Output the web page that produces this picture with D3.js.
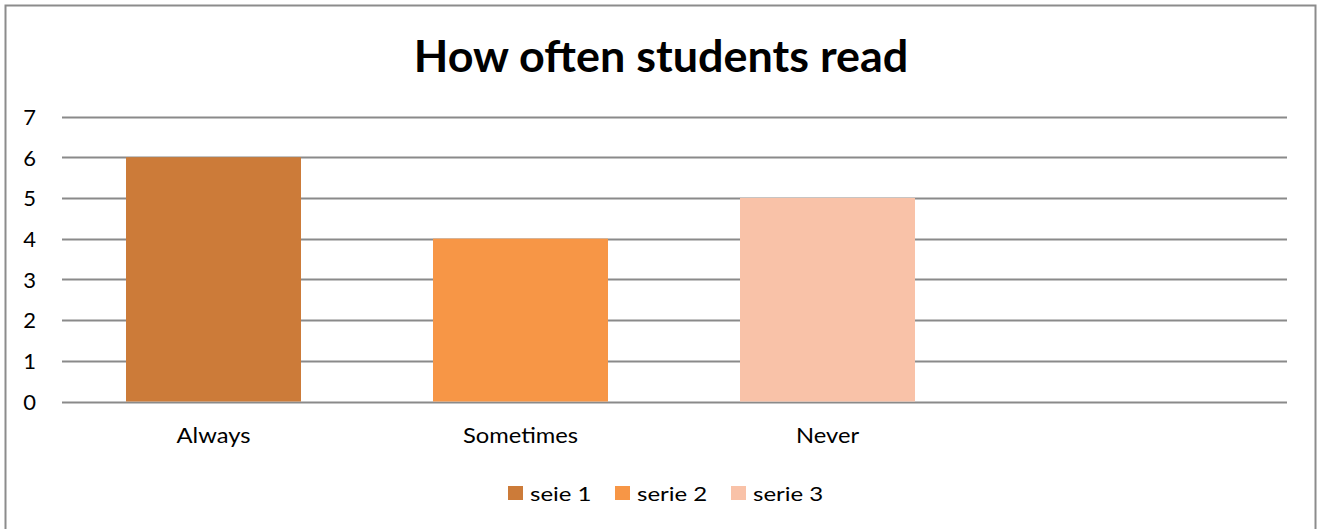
<!DOCTYPE html>
<html>
<head>
<meta charset="utf-8">
<script src="https://cdn.jsdelivr.net/npm/d3@7"></script>
<style>
  body { margin: 0; background: #fff; }
  svg text { font-family: Lato, "Open Sans", sans-serif; fill: #000; }
</style>
</head>
<body>
<div id="chart"></div>
<script>
// chart data
const title = "How often students read";
const categories = ["Always", "Sometimes", "Never", ""];
const values = [6, 4, 5, null];
const seriesNames = ["seie 1", "serie 2", "serie 3"];
const seriesColors = ["#CC7B39", "#F79646", "#F9C2A8"];
const yTicks = [0, 1, 2, 3, 4, 5, 6, 7];

const width = 1321, height = 529;
const plot = { left: 62, right: 1287, top: 116.5, bottom: 401.5 };

const svg = d3.select("#chart")
    .append("svg")
    .attr("width", width)
    .attr("height", height);

// outer frame
svg.append("rect")
    .attr("x", 5.5).attr("y", 5.5)
    .attr("width", 1310).attr("height", 540)
    .attr("fill", "#fff")
    .attr("stroke", "#8c8c8c")
    .attr("stroke-width", 2);

const x = d3.scaleBand()
    .domain(categories)
    .range([60, 1288])
    .paddingInner(0.43)
    .paddingOuter(0.215);

const y = d3.scaleLinear()
    .domain([0, 7])
    .range([plot.bottom, plot.top]);

// gridlines
svg.append("g")
    .selectAll("line")
    .data(yTicks)
    .enter()
    .append("line")
        .attr("x1", plot.left)
        .attr("x2", plot.right)
        .attr("y1", d => Math.round(y(d)) + 0.5)
        .attr("y2", d => Math.round(y(d)) + 0.5)
        .attr("stroke", "#8a8a8a")
        .attr("stroke-width", 2);

// y axis labels
const yAxis = svg.append("g")
    .attr("transform", `translate(${plot.left},0)`)
    .call(d3.axisLeft(y).tickValues(yTicks).tickFormat(d3.format("d")).tickSize(0).tickPadding(26));
yAxis.select(".domain").remove();
yAxis.selectAll("text")
    .attr("font-size", 22)
    .attr("fill", "#000")
    .style("font-family", "Lato, 'Open Sans', sans-serif")
    .attr("dy", "0.36em");

// bars
svg.append("g")
    .selectAll("rect")
    .data(categories.map((c, i) => ({ cat: c, value: values[i], i })).filter(d => d.value != null))
    .enter()
    .append("rect")
        .attr("x", d => x(d.cat))
        .attr("width", x.bandwidth())
        .attr("y", d => y(d.value))
        .attr("height", d => y(0) - y(d.value))
        .attr("fill", d => seriesColors[d.i]);

// x axis labels (stretched a bit to match the wider original font)
const xAxis = svg.append("g")
    .attr("transform", `translate(0,${plot.bottom})`)
    .call(d3.axisBottom(x).tickSize(0).tickPadding(0));
xAxis.select(".domain").remove();
xAxis.selectAll("text")
    .attr("font-size", 21)
    .attr("fill", "#000")
    .style("font-family", "Lato, 'Open Sans', sans-serif")
    .attr("dy", 0)
    .attr("y", 0)
    .attr("transform", "translate(0,41.5) scale(1.13,1)");

// title
svg.append("text")
    .attr("text-anchor", "middle")
    .attr("font-size", 43)
    .attr("font-weight", "bold")
    .attr("transform", "translate(661,72) scale(1.045,1)")
    .text(title);

// legend
const legendX = [508, 615, 731];
const legend = svg.append("g")
    .selectAll("g")
    .data(seriesNames)
    .enter()
    .append("g")
        .attr("transform", (d, i) => `translate(${legendX[i]},486)`);
legend.append("rect")
    .attr("width", 15).attr("height", 14)
    .attr("fill", (d, i) => seriesColors[i]);
legend.append("text")
    .attr("font-size", 20)
    .attr("transform", "translate(22,14.5) scale(1.2,1)")
    .text(d => d);
</script>
</body>
</html>
